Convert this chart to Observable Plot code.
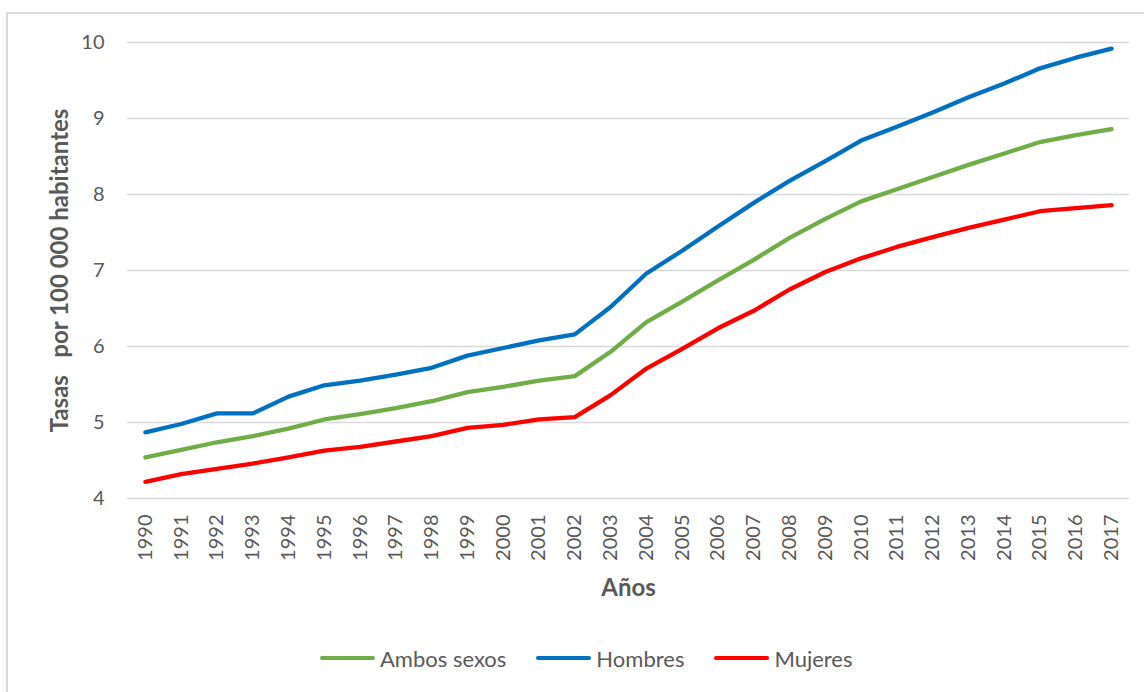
<!DOCTYPE html>
<html>
<head>
<meta charset="utf-8">
<script src="https://cdn.jsdelivr.net/npm/d3@7"></script>
<script src="https://cdn.jsdelivr.net/npm/@observablehq/plot@0.6"></script>
<style>
  html, body { margin: 0; padding: 0; background: #fff; }
  #chart { position: relative; width: 1144px; height: 692px; overflow: hidden; font-family: Lato, sans-serif; }
  #frame { position: absolute; left: 6px; top: 12px; width: 1200px; height: 800px;
           border-left: 2px solid #d9d9d9; border-top: 2px solid #d9d9d9; }
  #plot { position: absolute; left: 0; top: 0; }
  #legend { position: absolute; left: 320px; top: 646px; height: 24px; display: flex; align-items: center;
            font-size: 22px; color: #595959; white-space: nowrap; }
  .item { display: flex; align-items: center; margin-right: 30px; }
  .sw { width: 55px; height: 4px; border-radius: 2px; margin-right: 5px; }
  svg text { white-space: pre; }
</style>
</head>
<body>
<div id="chart">
  <div id="frame"></div>
  <div id="plot"></div>
  <div id="legend"></div>
</div>
<script>
// Tasas por 100 000 habitantes, 1990-2017
const years = [1990, 1991, 1992, 1993, 1994, 1995, 1996, 1997, 1998, 1999,
               2000, 2001, 2002, 2003, 2004, 2005, 2006, 2007, 2008, 2009,
               2010, 2011, 2012, 2013, 2014, 2015, 2016, 2017];
const ambos   = [4.54, 4.64, 4.74, 4.82, 4.92, 5.04, 5.11, 5.19, 5.28, 5.40,
                 5.47, 5.55, 5.61, 5.93, 6.32, 6.59, 6.87, 7.14, 7.43, 7.68,
                 7.91, 8.07, 8.23, 8.39, 8.54, 8.69, 8.78, 8.86];
const hombres = [4.87, 4.98, 5.12, 5.12, 5.34, 5.49, 5.55, 5.63, 5.72, 5.88,
                 5.98, 6.08, 6.16, 6.52, 6.96, 7.26, 7.58, 7.89, 8.18, 8.44,
                 8.71, 8.89, 9.08, 9.28, 9.46, 9.66, 9.80, 9.92];
const mujeres = [4.22, 4.32, 4.39, 4.46, 4.54, 4.63, 4.68, 4.75, 4.82, 4.93,
                 4.97, 5.04, 5.07, 5.36, 5.71, 5.97, 6.24, 6.47, 6.75, 6.98,
                 7.16, 7.31, 7.44, 7.56, 7.67, 7.78, 7.82, 7.86];

const seriesNames = ["Ambos sexos", "Hombres", "Mujeres"];
const seriesColors = ["#70ad47", "#0070c0", "#ff0000"];
const yTicks = [4, 5, 6, 7, 8, 9, 10];
const yTitle = "Tasas   por 100 000 habitantes";
const xTitle = "Años";

const seriesValues = [ambos, hombres, mujeres];
const rows = seriesNames.flatMap((name, s) =>
  years.map((year, i) => ({year, serie: name, tasa: seriesValues[s][i]}))
);

const chart = Plot.plot({
  width: 1144,
  height: 620,
  marginLeft: 127,
  marginRight: 15,
  marginTop: 42,
  marginBottom: 122,
  style: {fontFamily: "Lato, sans-serif", fontSize: "20px", color: "#595959", background: "transparent"},
  x: {type: "point", domain: years, padding: 0.5, round: false, label: null},
  y: {domain: [4, 10], label: null},
  color: {domain: seriesNames, range: seriesColors},
  marks: [
    Plot.gridY(yTicks, {stroke: "#d9d9d9", strokeOpacity: 1, strokeWidth: 1.4}),
    Plot.axisY(yTicks, {tickSize: 0, tickPadding: 23, tickFormat: d => String(d), label: null}),
    Plot.axisX({tickSize: 0, tickPadding: 16, tickRotate: -90, tickFormat: d => String(d), label: null}),
    Plot.line(rows, {
      x: "year", y: "tasa", z: "serie", stroke: "serie",
      strokeWidth: 4.3, strokeLinecap: "round", strokeLinejoin: "round"
    }),
    Plot.text([yTitle], {
      text: d => d, frameAnchor: "left", dx: -67, rotate: -90,
      textAnchor: "middle", lineAnchor: "middle", fontWeight: "bold", fontSize: 24, fill: "#595959"
    }),
    Plot.text([xTitle], {
      text: d => d, frameAnchor: "bottom", dy: 90,
      textAnchor: "middle", lineAnchor: "middle", fontWeight: "bold", fontSize: 24, fill: "#595959"
    })
  ]
});
document.getElementById("plot").appendChild(chart);

// Legend below the chart
const legend = document.getElementById("legend");
seriesNames.forEach((name, i) => {
  const item = document.createElement("div");
  item.className = "item";
  const sw = document.createElement("span");
  sw.className = "sw";
  sw.style.background = seriesColors[i];
  const label = document.createElement("span");
  label.textContent = name;
  item.appendChild(sw);
  item.appendChild(label);
  legend.appendChild(item);
});
</script>
</body>
</html>
